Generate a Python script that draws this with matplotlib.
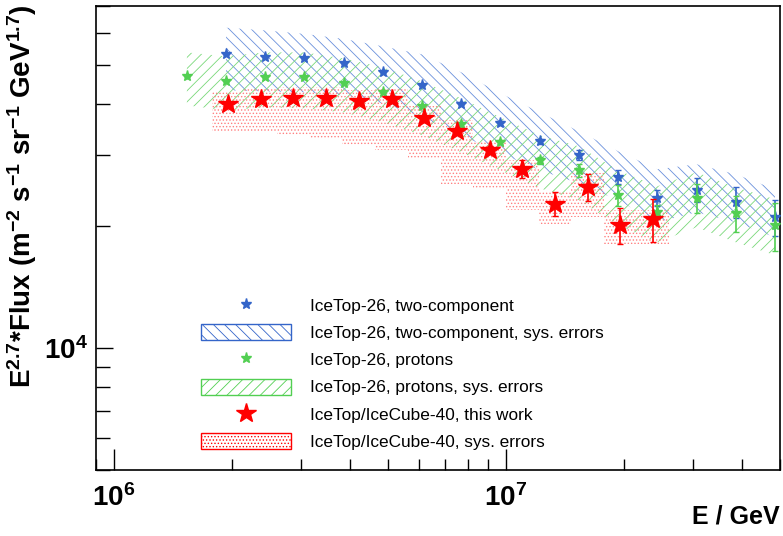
import numpy as np
import matplotlib.pyplot as plt
from matplotlib.patches import Patch
from matplotlib.lines import Line2D

plt.rcParams['font.family'] = ['Liberation Sans', 'DejaVu Sans']
plt.rcParams['mathtext.fontset'] = 'custom'
plt.rcParams['mathtext.rm'] = 'Liberation Sans:bold'
plt.rcParams['mathtext.it'] = 'Liberation Sans:bold'
plt.rcParams['mathtext.bf'] = 'Liberation Sans:bold'
plt.rcParams['hatch.linewidth'] = 0.6

# IceTop-26, two-component (E in GeV, E^2.7 * flux)
e_two = [1.932e6, 2.432e6, 3.062e6, 3.855e6, 4.853e6, 6.109e6, 7.691e6, 9.683e6,
         1.219e7, 1.535e7, 1.932e7, 2.432e7, 3.062e7, 3.855e7, 4.853e7]
flux_two = [53180, 52350, 52050, 50710, 48080, 44590, 40180, 36060,
            32420, 29950, 26480, 23490, 24640, 22970, 21090]
err_two = [300, 300, 300, 300, 300, 300, 300, 400,
           500, 870, 1060, 1070, 1700, 2040, 2150]
sys_two_hi = [61870, 60930, 59730, 58050, 55640, 53170, 47990, 42590,
              38230, 34320, 30640, 27660, 28460, 26880, 24690]
sys_two_lo = [43320, 43070, 42830, 42100, 40230, 37160, 33550, 30290,
              27500, 25540, 23190, 20460, 21660, 20460, 18790]

# IceTop-26, protons
e_p = [1.535e6] + e_two
flux_p = [46920, 45680, 46730, 46730, 45150, 42900, 39560, 35850,
          32290, 29110, 27500, 23860, 21700, 23550, 21580, 20120]
err_p = [300, 300, 300, 300, 300, 300, 300, 400,
         400, 600, 1050, 1370, 830, 1930, 2240, 2740]
sys_p_hi = [53770, 52560, 53770, 53770, 51960, 49380, 45600, 41400,
            37160, 33550, 31510, 27500, 25110, 27190, 24970, 23320]
sys_p_lo = [39780, 38670, 39340, 39110, 38230, 36130, 33550, 30460,
            27500, 24830, 23190, 20110, 18260, 19890, 18260, 16970]

# IceTop/IceCube-40, this work
e_ic = [1.954e6, 2.368e6, 2.870e6, 3.477e6, 4.213e6, 5.105e6, 6.186e6,
        7.496e6, 9.083e6, 1.1006e7, 1.334e7, 1.616e7, 1.958e7, 2.373e7]
flux_ic = [40180, 41180, 41580, 41580, 40780, 41180, 37090,
           34390, 30810, 27770, 22760, 25010, 20120, 20820]
err_ic = [300, 300, 300, 300, 300, 300, 400,
          500, 700, 1410, 1570, 1930, 2050, 2500]
sys_ic_hi = [42900, 43820, 44070, 44070, 43320, 43570, 39560,
             36530, 32290, 29110, 24300, 27040, 21900, 21900]
sys_ic_lo = [34190, 34190, 33550, 33110, 31700, 30940, 29560,
             25500, 24780, 21900, 20310, 21090, 18130, 18130]

blue = '#3465c9'
green = '#52cf52'
red = '#ff0000'
blue_hatch = '\\\\\\'
green_hatch = '///'
red_hatch = '.....'

fig = plt.figure(figsize=(7.83, 5.36), dpi=100)
ax = fig.add_axes([96 / 783, 66 / 536, 684 / 783, 464 / 536])
ax.set_xscale('log')
ax.set_yscale('log')

# bin edges for the step-like band of this work
le = np.log10(e_ic)
half = (le[1] - le[0]) / 2
edges = 10 ** np.concatenate([[le[0] - half], (le[:-1] + le[1:]) / 2, [le[-1] + half]])

ax.fill_between(e_two, sys_two_lo, sys_two_hi, facecolor='none', edgecolor='#6a90dc',
                hatch=blue_hatch, linewidth=0, zorder=1)
ax.fill_between(e_p, sys_p_lo, sys_p_hi, facecolor='none', edgecolor='#79d879',
                hatch=green_hatch, linewidth=0, zorder=1)
ax.stairs(sys_ic_hi, edges, baseline=sys_ic_lo, fill=True, facecolor='none',
          edgecolor='#ff8080', hatch=red_hatch, linewidth=0, zorder=2)

ax.errorbar(e_two, flux_two, yerr=err_two, fmt='*', ms=8, color=blue,
            elinewidth=1.2, capsize=2, zorder=3)
ax.errorbar(e_p, flux_p, yerr=err_p, fmt='*', ms=8, color=green,
            elinewidth=1.2, capsize=2, zorder=4)
ax.errorbar(e_ic, flux_ic, yerr=err_ic, fmt='*', ms=15, color=red,
            elinewidth=1.2, capsize=2, zorder=5)

ax.set_xlim(9e5, 5e7)
ax.set_ylim(5000, 70000)

ax.set_xticks([1e6, 1e7], [r'$10^{6}$', r'$10^{7}$'])
ax.set_yticks([1e4], [r'$10^{4}$'])
ax.xaxis.set_minor_locator(plt.LogLocator(base=10, subs=np.arange(2, 10)))
ax.yaxis.set_minor_locator(plt.LogLocator(base=10, subs=np.arange(2, 10)))
ax.xaxis.set_minor_formatter(plt.NullFormatter())
ax.yaxis.set_minor_formatter(plt.NullFormatter())
ax.tick_params(axis='x', which='major', direction='in', length=15, width=1, labelsize=20, pad=10)
ax.tick_params(axis='x', which='minor', direction='in', length=8, width=1)
ax.tick_params(axis='y', which='major', direction='in', length=12, width=1, labelsize=20, pad=6)
ax.tick_params(axis='y', which='minor', direction='in', length=10, width=1)
for s in ax.spines.values():
    s.set_linewidth(1.2)

handles = [
    Line2D([], [], marker='*', ls='none', color=blue, ms=8),
    Patch(facecolor='white', edgecolor=blue, hatch=blue_hatch, linewidth=1),
    Line2D([], [], marker='*', ls='none', color=green, ms=8),
    Patch(facecolor='white', edgecolor=green, hatch=green_hatch, linewidth=1),
    Line2D([], [], marker='*', ls='none', color=red, ms=15),
    Patch(facecolor='white', edgecolor=red, hatch=red_hatch, linewidth=1),
]
labels = [
    'IceTop-26, two-component',
    'IceTop-26, two-component, sys. errors',
    'IceTop-26, protons',
    'IceTop-26, protons, sys. errors',
    'IceTop/IceCube-40, this work',
    'IceTop/IceCube-40, sys. errors',
]
fig.legend(handles, labels, loc='upper left', bbox_to_anchor=(201 / 783, 1 - 297 / 536),
           frameon=False, fontsize=12.4, handlelength=5.2, handleheight=1.05,
           handletextpad=1.1, labelspacing=0.6, borderpad=0, borderaxespad=0)

fig.text(780 / 783, 1 - 517 / 536, 'E / GeV', ha='right', va='center',
         fontsize=18, fontweight='bold')
fig.text(22 / 783, 1 - 196 / 536,
         r'E$^{2.7}$*Flux (m$^{-2}$ s$^{-1}$ sr$^{-1}$ GeV$^{1.7}$)',
         rotation=90, ha='center', va='center', fontsize=20, fontweight='bold')

fig.savefig('out.png', dpi=100)
